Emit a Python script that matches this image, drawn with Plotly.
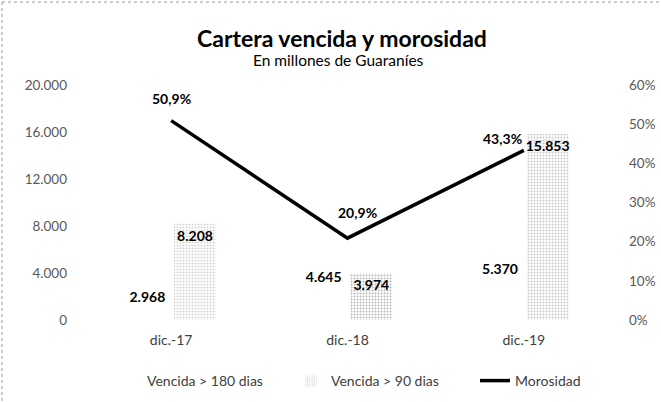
import plotly.graph_objects as go

categories = ["dic.-17", "dic.-18", "dic.-19"]
vencida_180 = [2968, 4645, 5370]
vencida_90 = [8208, 3974, 15853]
morosidad = [0.509, 0.209, 0.433]
y_ticks = [0, 4000, 8000, 12000, 16000, 20000]
y2_ticks = [0, 0.1, 0.2, 0.3, 0.4, 0.5, 0.6]

FONT = "Lato"
fig = go.Figure()

fig.add_trace(go.Bar(
    name="Vencida > 180 dias", x=categories, y=vencida_180,
    marker=dict(color="white", line=dict(width=0)),
    texttemplate="%{y:,.0f}", textposition="inside", insidetextanchor="end",
    constraintext="none", textangle=0,
    textfont=dict(family=FONT, size=14, color="black", weight="bold"),
))
fig.add_trace(go.Bar(
    name="Vencida > 90 dias", x=categories, y=vencida_90,
    marker=dict(color="white", line=dict(width=0),
                pattern=dict(shape=".", fgcolor=["#ababab", "#707070", "#939393"],
                             bgcolor="white", size=3, solidity=0.35)),
    texttemplate="%{y:,.0f}", textposition="inside", insidetextanchor="end",
    constraintext="none", textangle=0,
    textfont=dict(family=FONT, size=14, color="black", weight="bold"),
))
fig.add_trace(go.Scatter(
    name="Morosidad", x=categories, y=morosidad, yaxis="y2",
    mode="lines", line=dict(color="black", width=3.5),
))

# line labels
shifts = [(0, 22), (10, 26), (-21, 12)]
for c, v, (dx, dy) in zip(categories, morosidad, shifts):
    fig.add_annotation(x=c, y=v, yref="y2", text=f"{v*100:.1f}%".replace(".", ","),
                       showarrow=False, xshift=dx, yshift=dy,
                       font=dict(family=FONT, size=14, color="black", weight="bold"))

fig.update_layout(
    width=661, height=402,
    margin=dict(l=83, r=49, t=85, b=82, autoexpand=False),
    paper_bgcolor="white", plot_bgcolor="white",
    separators=",.",
    barmode="group", bargap=0.46, bargroupgap=0.12,
    showlegend=True,
    legend=dict(orientation="h", x=(659 - 83) / 529, xanchor="right",
                y=-(381 - 320) / 235, yanchor="middle",
                font=dict(family=FONT, size=14, color="#404040"),
                itemwidth=30, entrywidth=139, entrywidthmode="pixels",
                tracegroupgap=0, traceorder="normal", bgcolor="rgba(0,0,0,0)"),
    font=dict(family=FONT, size=13, color="#595959"),
    xaxis=dict(showline=False, showgrid=False, ticks="", zeroline=False,
               tickfont=dict(family=FONT, size=14, color="#404040"),
               ticklabelstandoff=10),
    yaxis=dict(range=[0, 20000], tickvals=y_ticks, tickformat=",.0f",
               showgrid=False, zeroline=False, showline=False, ticks="",
               tickfont=dict(family=FONT, size=13.5, color="#595959"),
               ticklabelstandoff=15),
    yaxis2=dict(range=[0, 0.6], tickvals=y2_ticks, tickformat=".0%",
                overlaying="y", side="right",
                showgrid=False, zeroline=False, showline=False, ticks="",
                tickfont=dict(family=FONT, size=13.5, color="#595959"),
                ticklabelstandoff=16),
)

# title and subtitle (positioned in paper coords)
fig.add_annotation(x=(342 - 83) / 529, y=1 + (85 - 38) / 235, xref="paper", yref="paper",
                   text="<b>Cartera vencida y morosidad</b>", showarrow=False,
                   xanchor="center", yanchor="middle", borderpad=0,
                   font=dict(family=FONT, size=23, color="black"))
fig.add_annotation(x=(338 - 83) / 529, y=1 + (85 - 60) / 235, xref="paper", yref="paper",
                   text="En millones de Guaraníes", showarrow=False,
                   xanchor="center", yanchor="middle", borderpad=0,
                   font=dict(family=FONT, size=15.5, color="black"))

# dotted chart border (top and left visible)
fig.add_shape(type="line", xref="paper", yref="paper",
              x0=-81 / 529, x1=1 + 49 / 529, y0=1 + 83 / 235, y1=1 + 83 / 235,
              line=dict(color="#9a9a9a", width=1, dash="dot"))
fig.add_shape(type="line", xref="paper", yref="paper",
              x0=-81 / 529, x1=-81 / 529, y0=1 + 83 / 235, y1=-82 / 235,
              line=dict(color="#9a9a9a", width=1, dash="dot"))

fig.write_html("out.html", config={"displayModeBar": False},
               post_script="document.body.style.margin='0';")
